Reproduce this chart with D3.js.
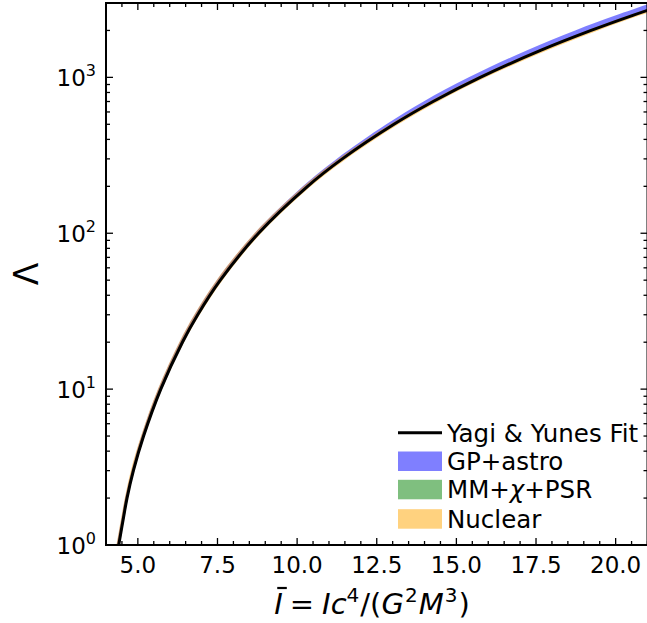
<!DOCTYPE html>
<html>
<head>
<meta charset="utf-8">
<script src="https://cdn.jsdelivr.net/npm/d3@7"></script>
<style>
  html, body { margin: 0; padding: 0; background: #fff; }
  svg { display: block; font-family: "DejaVu Sans", sans-serif; }
</style>
</head>
<body>
<svg id="chart" width="647" height="623"></svg>
<script>
// Tidal deformability Λ against normalised moment of inertia Ī
const lambdaGrid = [1, 1.5, 2, 3, 5, 10, 20, 30, 50, 100, 200, 300, 500, 700, 1000, 1500, 2000, 2500, 3000];

// Yagi & Yunes I-Love fit
const fitI = [4.40, 4.55, 4.66, 4.86, 5.18, 5.72, 6.40, 6.88, 7.59, 8.79, 10.33, 11.42, 13.04, 14.27, 15.75, 17.68, 19.23, 20.54, 21.69];

// credible bands (Ī range at each Λ)
const gpLo  = [4.34, 4.49, 4.60, 4.80, 5.11, 5.64, 6.31, 6.78, 7.48, 8.67, 10.18, 11.24, 12.80, 13.97, 15.39, 17.24, 18.73, 20.01, 21.13];
const gpHi  = [4.42, 4.57, 4.68, 4.88, 5.20, 5.74, 6.42, 6.90, 7.61, 8.81, 10.35, 11.44, 13.06, 14.29, 15.77, 17.70, 19.25, 20.56, 21.71];
const mmLo  = [4.37, 4.52, 4.63, 4.83, 5.15, 5.69, 6.37, 6.85, 7.56, 8.76, 10.30, 11.39, 13.01, 14.24, 15.72, 17.65, 19.20, 20.51, 21.66];
const mmHi  = [4.43, 4.58, 4.69, 4.89, 5.21, 5.75, 6.43, 6.91, 7.62, 8.82, 10.36, 11.45, 13.07, 14.30, 15.78, 17.71, 19.26, 20.57, 21.72];
const nucLo = [4.33, 4.48, 4.59, 4.78, 5.10, 5.63, 6.30, 6.77, 7.47, 8.66, 10.20, 11.29, 12.92, 14.16, 15.64, 17.57, 19.12, 20.43, 21.58];
const nucHi = [4.42, 4.57, 4.68, 4.89, 5.21, 5.76, 6.45, 6.94, 7.66, 8.87, 10.43, 11.54, 13.18, 14.43, 15.93, 17.88, 19.45, 20.77, 21.93];

const xTickValues = [5, 7.5, 10, 12.5, 15, 17.5, 20];
const xTickLabels = ["5.0", "7.5", "10.0", "12.5", "15.0", "17.5", "20.0"];
const yTickValues = [1, 10, 100, 1000];
const yTickExponents = ["0", "1", "2", "3"];

const legendLabels = ["Yagi & Yunes Fit", "GP+astro", "MM+χ+PSR", "Nuclear"];
const bandColors = ["rgba(0,0,255,0.5)", "rgba(0,128,0,0.5)", "rgba(255,165,0,0.5)"];

const svg = d3.select("#chart");
const plot = { left: 106, right: 647.5, top: 3, bottom: 545 };

const x = d3.scaleLinear().domain([4, 21]).range([plot.left, plot.right]);
const y = d3.scaleLog().domain([1, 3000]).range([plot.bottom, plot.top]);

svg.append("defs").append("clipPath").attr("id", "plotClip")
  .append("rect")
  .attr("x", plot.left).attr("y", plot.top)
  .attr("width", plot.right - plot.left).attr("height", plot.bottom - plot.top);

const g = svg.append("g").attr("clip-path", "url(#plotClip)");

const curve = d3.curveCatmullRom.alpha(0.5);
const bandArea = (lo, hi) => d3.area()
  .y((d, i) => y(lambdaGrid[i]))
  .x0((d, i) => x(lo[i]))
  .x1((d, i) => x(hi[i]))
  .curve(curve)(lambdaGrid);

const bands = [[gpLo, gpHi], [mmLo, mmHi], [nucLo, nucHi]];
bands.forEach(([lo, hi], k) => {
  g.append("path").attr("d", bandArea(lo, hi)).attr("fill", bandColors[k]).attr("stroke", "none");
});

const fitLine = d3.line()
  .x((d, i) => x(fitI[i]))
  .y((d, i) => y(lambdaGrid[i]))
  .curve(curve);
g.append("path").attr("d", fitLine(lambdaGrid))
  .attr("fill", "none").attr("stroke", "#000").attr("stroke-width", 3);

// ticks (inward, all four sides)
const ticks = svg.append("g").attr("stroke", "#000").attr("stroke-width", 1.3);
const majorLen = 7, minorLen = 4;
const xMinor = d3.range(4.5, 21.01, 0.5).filter(v => !xTickValues.some(t => Math.abs(t - v) < 1e-9));
xTickValues.forEach(v => {
  ticks.append("line").attr("x1", x(v)).attr("x2", x(v)).attr("y1", plot.bottom).attr("y2", plot.bottom - majorLen);
  ticks.append("line").attr("x1", x(v)).attr("x2", x(v)).attr("y1", plot.top).attr("y2", plot.top + majorLen);
});
xMinor.forEach(v => {
  ticks.append("line").attr("x1", x(v)).attr("x2", x(v)).attr("y1", plot.bottom).attr("y2", plot.bottom - minorLen);
  ticks.append("line").attr("x1", x(v)).attr("x2", x(v)).attr("y1", plot.top).attr("y2", plot.top + minorLen);
});
const yMinor = [];
[1, 10, 100, 1000].forEach(dec => { for (let m = 2; m <= 9; m++) { const v = dec * m; if (v <= 3000) yMinor.push(v); } });
yTickValues.forEach(v => {
  ticks.append("line").attr("x1", plot.left).attr("x2", plot.left + majorLen).attr("y1", y(v)).attr("y2", y(v));
  ticks.append("line").attr("x1", plot.right).attr("x2", plot.right - majorLen).attr("y1", y(v)).attr("y2", y(v));
});
yMinor.forEach(v => {
  ticks.append("line").attr("x1", plot.left).attr("x2", plot.left + minorLen).attr("y1", y(v)).attr("y2", y(v));
  ticks.append("line").attr("x1", plot.right).attr("x2", plot.right - minorLen).attr("y1", y(v)).attr("y2", y(v));
});

// spines
svg.append("rect")
  .attr("x", plot.left).attr("y", plot.top)
  .attr("width", plot.right - plot.left).attr("height", plot.bottom - plot.top)
  .attr("fill", "none").attr("stroke", "#000").attr("stroke-width", 2);

// tick labels
const tickFont = 23;
xTickValues.forEach((v, i) => {
  svg.append("text").attr("x", x(v)).attr("y", plot.bottom + 28)
    .attr("text-anchor", "middle").attr("font-size", tickFont).attr("fill", "#000")
    .text(xTickLabels[i]);
});
yTickValues.forEach((v, i) => {
  const t = svg.append("text").attr("x", plot.left - 10).attr("y", y(v) + 9)
    .attr("text-anchor", "end").attr("font-size", tickFont).attr("fill", "#000");
  t.append("tspan").text("10");
  t.append("tspan").attr("dy", -10).attr("font-size", 16).text(yTickExponents[i]);
});

// axis labels
const xlY = 614;
const xl = svg.append("text").attr("x", 372).attr("y", xlY)
  .attr("text-anchor", "middle").attr("font-size", 29).attr("fill", "#000");
xl.append("tspan").attr("font-style", "italic").text("I");
xl.append("tspan").attr("dx", 7).text("=");
xl.append("tspan").attr("dx", 8).attr("font-style", "italic").text("Ic");
xl.append("tspan").attr("dy", -12).attr("font-size", 20).text("4");
xl.append("tspan").attr("dy", 12).attr("dx", 1).text("/(");
xl.append("tspan").attr("font-style", "italic").text("G");
xl.append("tspan").attr("dy", -12).attr("dx", 1).attr("font-size", 20).text("2");
xl.append("tspan").attr("dy", 12).attr("dx", 1).attr("font-style", "italic").text("M");
xl.append("tspan").attr("dy", -12).attr("dx", 1).attr("font-size", 20).text("3");
xl.append("tspan").attr("dy", 12).attr("dx", 1).text(")");
// bar over the first I
const xlNode = xl.node();
const s0 = xlNode.getStartPositionOfChar(0), e0 = xlNode.getEndPositionOfChar(0);
svg.append("line")
  .attr("x1", s0.x + 3).attr("x2", e0.x + 4)
  .attr("y1", xlY - 26).attr("y2", xlY - 26)
  .attr("stroke", "#000").attr("stroke-width", 2.2);

svg.append("text")
  .attr("transform", "translate(38,274) rotate(-90)")
  .attr("text-anchor", "middle").attr("font-size", 33).attr("fill", "#000")
  .text("Λ");

// legend
const legendFont = 24.5;
const lg = svg.append("g");
const legX = 398, legW = 44, textX = 447;
const rowBase = [441.7, 470, 498.3, 527.7];
lg.append("line").attr("x1", legX).attr("x2", legX + legW)
  .attr("y1", rowBase[0] - 9).attr("y2", rowBase[0] - 9)
  .attr("stroke", "#000").attr("stroke-width", 3);
bandColors.forEach((c, k) => {
  lg.append("rect").attr("x", legX).attr("y", rowBase[k + 1] - 18.5)
    .attr("width", legW).attr("height", 19.5).attr("fill", c);
});
legendLabels.forEach((lab, k) => {
  const t = lg.append("text").attr("x", textX).attr("y", rowBase[k])
    .attr("font-size", legendFont).attr("fill", "#000");
  if (lab.includes("χ")) {
    const parts = lab.split("χ");
    t.append("tspan").text(parts[0]);
    t.append("tspan").attr("font-style", "italic").text("χ");
    t.append("tspan").text(parts[1]);
  } else {
    t.text(lab);
  }
});
</script>
</body>
</html>
